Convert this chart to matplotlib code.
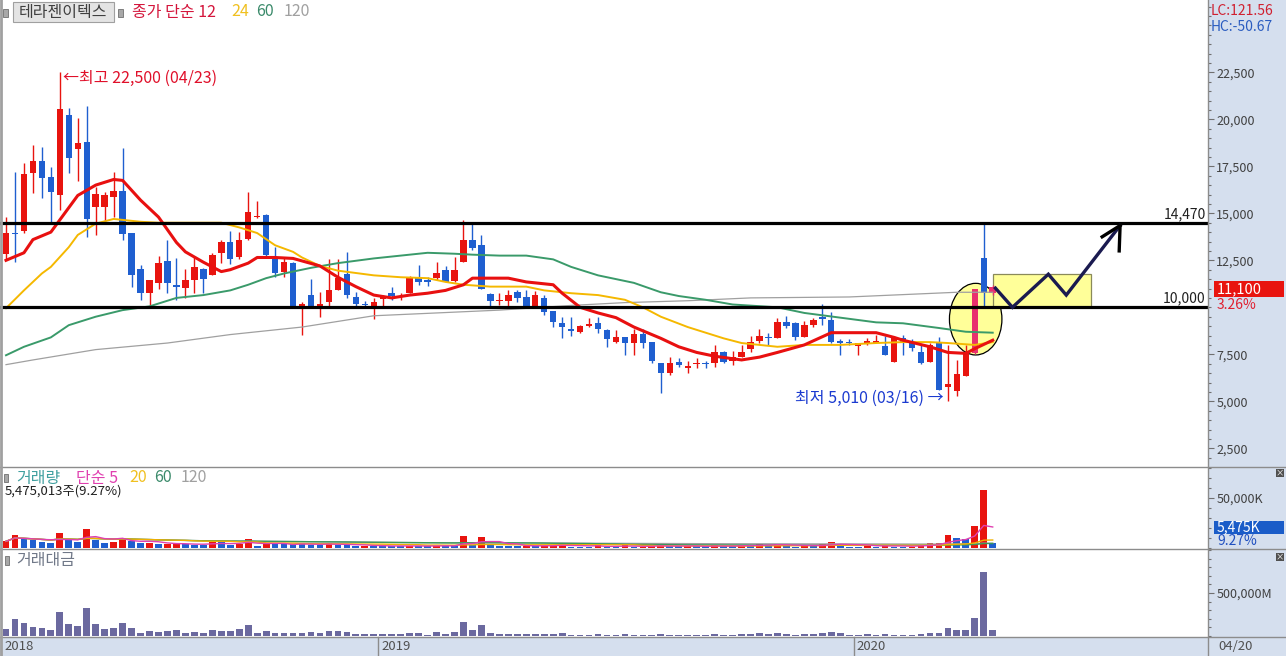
import matplotlib
matplotlib.use("Agg")
import matplotlib.pyplot as plt
from matplotlib.patches import Rectangle, Ellipse
from matplotlib.lines import Line2D
from matplotlib.ticker import MultipleLocator, FuncFormatter
import pandas as pd

plt.rcParams['font.family'] = ['Noto Sans CJK KR', 'DejaVu Sans']

W, H = 1286, 656
R = 1208  # right edge of plot area (px)

# weekly candles, week of 2018-03-12 ... 2020-04-20
opens = [12850, 13950, 14050, 17150, 17800, 16950, 15950, 20250, 18400, 18800,
         15350, 15350, 15850, 16200, 13950, 12050, 10750, 11300, 12450, 11150,
         11050, 11450, 12050, 11700, 12900, 13450, 12700, 13650, 14800, 14900,
         12700, 11900, 12350, 9950, 10650, 9950, 10300, 10900, 11750, 10550,
         10150, 10000, 10450, 10750, 10550, 10750, 11600, 11450, 11550, 12000,
         11400, 12400, 13600, 13300, 10700, 10350, 10350, 10800, 10550, 10050,
         10500, 9800, 9150, 8850, 8700, 9000, 9150, 8800, 8150, 8400,
         8100, 8600, 8150, 7050, 6500, 7100, 6750, 6980, 7000, 7050,
         7600, 7150, 7350, 7800, 8200, 8400, 8350, 9200, 9150, 8400,
         9050, 9500, 9300, 8200, 8100, 7950, 8100, 8100, 7950, 7100,
         8350, 8100, 7600, 7100, 8100, 5750, 5550, 6350, 7550, 12600,
         10750]
highs = [14800, 17200, 17700, 18650, 18550, 17450, 22500, 20600, 20050, 20700,
         16400, 16150, 17200, 18450, 13950, 12250, 11450, 12750, 13600, 12600,
         12050, 12700, 12100, 12900, 13600, 14050, 14000, 16150, 15650, 14950,
         13200, 12700, 12400, 10300, 11500, 10800, 12550, 12550, 12950, 10800,
         10350, 10500, 10650, 11100, 10750, 11650, 12250, 11600, 12400, 12200,
         12700, 14650, 14500, 13850, 10750, 10750, 10900, 10900, 10900, 10850,
         10650, 9800, 9500, 9500, 9050, 9450, 9500, 8850, 8800, 8400,
         8850, 8850, 8150, 7050, 7350, 7300, 7150, 7300, 7150, 8000,
         7650, 7650, 8000, 8450, 8850, 8650, 9450, 9550, 9200, 9250,
         9450, 10150, 9750, 8300, 8300, 8100, 8350, 8550, 8450, 8450,
         8550, 8300, 8000, 8100, 8400, 8000, 7200, 8000, 11000, 14470,
         11200]
lows = [12500, 12400, 13950, 16100, 15800, 14500, 15200, 17150, 16700, 13750,
        13850, 14500, 14800, 13600, 11100, 10400, 10050, 10950, 10750, 10400,
        10500, 10750, 10750, 11700, 12350, 12300, 12550, 13600, 14750, 12700,
        11600, 11600, 10050, 8550, 9950, 9500, 10050, 10900, 10500, 9950,
        9950, 9400, 9950, 10400, 10400, 10750, 11200, 11150, 11450, 11350,
        11350, 12400, 13050, 10950, 10000, 10100, 10000, 10300, 9950, 10050,
        9600, 8950, 8350, 8450, 8650, 8950, 8650, 7900, 8100, 7450,
        7450, 7850, 7050, 5450, 6400, 6850, 6500, 6750, 6750, 6850,
        7050, 6950, 7350, 7600, 8100, 8000, 8350, 8900, 8250, 8400,
        8950, 9050, 8100, 7450, 8000, 7450, 8000, 8100, 7450, 7100,
        7450, 7700, 7000, 7100, 5600, 5010, 5300, 6350, 7500, 10000,
        10650]
closes = [13950, 13900, 17100, 17800, 16900, 16150, 20550, 17950, 18750, 14700,
          16050, 15950, 16200, 13900, 11700, 10750, 11450, 12350, 11300, 11100,
          11450, 12150, 11500, 12800, 13450, 12550, 13600, 15050, 14850, 12800,
          11850, 12400, 10050, 10200, 10000, 10200, 10900, 11550, 10650, 10200,
          10100, 10300, 10600, 10600, 10550, 11550, 11350, 11350, 11800, 11350,
          12000, 13600, 13150, 10950, 10350, 10350, 10650, 10500, 10000, 10650,
          9750, 9200, 8950, 8750, 9000, 9100, 8850, 8300, 8400, 8100,
          8600, 8100, 7150, 6500, 7050, 6950, 6900, 7050, 6980, 7600,
          7100, 7350, 7600, 8150, 8450, 8350, 9200, 9000, 8400, 9050,
          9300, 9400, 8150, 8100, 8080, 8100, 8200, 8200, 7450, 8400,
          8100, 7850, 7050, 8000, 5600, 5900, 6450, 7550, 10950, 10750,
          11100]
pink_weeks = [108, 110]

# moving averages (week index, price)
ma12_wk = [0, 2, 3, 5, 6, 8, 10, 12, 13, 15, 17, 19, 20, 22, 24, 25, 27, 28, 30, 32,
           35, 37, 39, 41, 43, 45, 47, 49, 51, 52, 55, 56, 58, 61, 62, 64, 66, 68, 70, 73,
           75, 77, 79, 82, 84, 86, 89, 92, 94, 97, 99, 100, 103, 105, 107, 108, 110]
ma12_val = [12500, 12900, 13600, 14000, 14650, 15950, 16500, 16800, 16750, 15700,
            14800, 13450, 12950, 12400, 11900, 12000, 12350, 12650, 12650, 12600,
            12200, 11600, 11100, 10650, 10500, 10650, 10750, 10900, 11200, 11550,
            11550, 11550, 11350, 11200, 10750, 10000, 9700, 9450, 8950, 8350,
            7900, 7600, 7400, 7200, 7350, 7600, 8000, 8650, 8650, 8650,
            8400, 8250, 7900, 7600, 7550, 7800, 8250]
ma24_wk = [0, 2, 4, 5, 7, 8, 10, 12, 15, 17, 20, 24, 26, 28, 30, 32, 33, 35, 37, 41,
           44, 47, 49, 51, 54, 58, 60, 63, 66, 69, 71, 73, 76, 78, 80, 82, 86, 89, 93, 97,
           100, 103, 105, 108, 110]
ma24_val = [9950, 10900, 11800, 12150, 13200, 13850, 14450, 14700, 14550, 14500,
            14500, 14500, 14250, 13950, 13300, 12950, 12650, 12200, 11950, 11700,
            11600, 11550, 11350, 11200, 11100, 11100, 10900, 10750, 10650, 10400,
            10000, 9500, 8950, 8650, 8350, 8100, 7900, 8000, 8000, 8100,
            8150, 8150, 8100, 8000, 8150]
ma60_wk = [0, 2, 5, 7, 10, 13, 16, 19, 22, 25, 27, 29, 31, 34, 37, 41, 45, 47, 50, 52,
           55, 58, 61, 63, 66, 70, 73, 75, 78, 81, 86, 89, 93, 97, 100, 104, 107, 110]
ma60_val = [7450, 7900, 8400, 9050, 9500, 9850, 10050, 10500, 10650, 10900,
            11200, 11550, 11800, 12100, 12350, 12600, 12800, 12900, 12850, 12800,
            12750, 12750, 12550, 12150, 11700, 11300, 10800, 10600, 10400, 10150,
            10000, 9700, 9450, 9200, 9150, 8900, 8700, 8650]
ma120_wk = [0, 3, 10, 18, 25, 33, 41, 48, 55, 63, 69, 76, 83, 94, 106, 110]
ma120_val = [6950, 7200, 7750, 8100, 8550, 8950, 9550, 9700, 9850, 10100,
             10250, 10350, 10500, 10550, 10800, 10800]

# volume (thousand shares)
volume = [6700, 13300, 9000, 7700, 6300, 5000, 15000, 8300, 6300, 19000,
          8300, 5000, 6300, 10000, 7300, 4900, 5100, 3900, 4100, 4200,
          4000, 3300, 3300, 6000, 6000, 3300, 4300, 9000, 1700, 4000,
          4000, 4000, 4000, 4000, 3300, 3300, 5000, 3300, 3300, 1700,
          2300, 2300, 2300, 1700, 1700, 2300, 2300, 1700, 2300, 2300,
          2300, 12300, 3300, 11000, 3300, 2200, 2150, 2150, 2250, 2200,
          2350, 2450, 4300, 1400, 1350, 1300, 2600, 1450, 1450, 2800,
          1400, 1450, 1650, 3500, 1700, 1700, 1750, 1700, 1700, 3000,
          1650, 1650, 3000, 2850, 4150, 2750, 3800, 2550, 1400, 2550,
          2450, 3700, 5650, 4300, 1500, 1500, 2800, 1450, 3000, 1500,
          1450, 1500, 3250, 4650, 5400, 13300, 10000, 9000, 22300, 58300,
          5475]
# trading value (million won)
trade_value = [81000, 198000, 151000, 105000, 93000, 70000, 279000, 140000, 116000, 326000,
               140000, 81000, 93000, 151000, 93000, 35000, 58000, 47000, 58000, 66000,
               35000, 47000, 35000, 66000, 58000, 58000, 81000, 128000, 35000, 58000,
               35000, 35000, 35000, 35000, 47000, 35000, 58000, 58000, 47000, 23000,
               23000, 23000, 23000, 23000, 23000, 35000, 35000, 12000, 47000, 23000,
               47000, 163000, 70000, 128000, 35000, 23000, 23000, 23000, 23000, 23000,
               23000, 23000, 39000, 12000, 12000, 12000, 23000, 12000, 12000, 23000,
               12000, 12000, 12000, 23000, 12000, 12000, 12000, 12000, 12000, 23000,
               12000, 12000, 23000, 23000, 35000, 23000, 35000, 23000, 12000, 23000,
               23000, 35000, 47000, 35000, 12000, 12000, 23000, 12000, 23000, 12000,
               12000, 12000, 23000, 35000, 35000, 93000, 70000, 70000, 209000, 744000,
               70000]

levels = [14470, 10000]
price_ticks = [2500, 5000, 7500, 12500, 15000, 17500, 20000, 22500]
year_marks = [(-0.5, '2018'), (41.5, '2019'), (94.5, '2020')]

# hand drawn annotations (week index, price)
zigzag = [(110.3, 11020), (112.2, 10000), (116.2, 11760), (118.2, 10650), (124.2, 14350)]
arrow_barbs = [(122.2, 13750), (124.1, 13000)]
box_span = (110.0, 121.0, 10000, 11770)
ellipse_c = (108.1, 9370, 5.85, 3810)

RED = '#e8140f'
BLUE = '#1f5fd0'


def fy(y):
    return 1 - y / H


def ftext(x, y, s, **kw):
    kw.setdefault('va', 'center')
    fig.text(x / W, fy(y), s, **kw)


def frect(x0, y0, x1, y1, **kw):
    fig.add_artist(Rectangle((x0 / W, fy(y1)), (x1 - x0) / W, (y1 - y0) / H,
                             transform=fig.transFigure, **kw))


def fline(xs, ys, **kw):
    fig.add_artist(Line2D([x / W for x in xs], [fy(y) for y in ys],
                          transform=fig.transFigure, **kw))


fig = plt.figure(figsize=(W / 100, H / 100), dpi=100, facecolor='white')

# side and bottom strips
frect(R, 0, W, H, facecolor='#d5dfee', edgecolor='none', zorder=0)
frect(0, 637, W, H, facecolor='#d5dfee', edgecolor='none', zorder=0)

ax_p = fig.add_axes([0, fy(466), R / W, 466 / H])
ax_v = fig.add_axes([0, fy(548), R / W, 80 / H])
ax_t = fig.add_axes([0, fy(636), R / W, 86 / H])

xlim = (-0.67, 134.0)
for ax in (ax_p, ax_v, ax_t):
    ax.set_xlim(*xlim)
    for s in ax.spines.values():
        s.set_visible(False)
    ax.tick_params(axis='x', bottom=False, labelbottom=False)
    ax.yaxis.tick_right()
    ax.tick_params(axis='y', which='major', direction='out', length=4, width=0.8,
                   color='#707070', labelsize=9, labelcolor='#404040', pad=2)
    ax.tick_params(axis='y', which='minor', direction='out', length=2, width=0.8,
                   color='#707070')

idx = list(range(len(closes)))

# ---- price panel
ax_p.set_ylim(1559, 26346)
ax_p.set_yticks(price_ticks)
ax_p.yaxis.set_major_formatter(FuncFormatter(lambda v, p: f'{int(v):,}'))
ax_p.yaxis.set_minor_locator(MultipleLocator(500))

ax_p.add_patch(Ellipse(ellipse_c[:2], ellipse_c[2], ellipse_c[3], facecolor='#ffff99',
                       edgecolor='black', lw=0.9, zorder=1))
ax_p.add_patch(Rectangle((box_span[0], box_span[2]), box_span[1] - box_span[0],
                         box_span[3] - box_span[2], facecolor='#ffff99',
                         edgecolor='#8a8a5a', lw=0.9, zorder=1))

cols = [RED if c >= o else BLUE for o, c in zip(opens, closes)]
for i in pink_weeks:
    cols[i] = '#e8306e'
ax_p.vlines(idx, lows, highs, colors=cols, lw=1, zorder=2)
bottoms = [min(o, c) for o, c in zip(opens, closes)]
heights = [max(abs(c - o), 60) for o, c in zip(opens, closes)]
ax_p.bar(idx, heights, bottom=bottoms, width=0.72, color=cols, lw=0, zorder=2)

ax_p.plot(ma120_wk, ma120_val, color='#a0a0a0', lw=0.9, zorder=3)
ax_p.plot(ma60_wk, ma60_val, color='#3a9a6a', lw=1.4, zorder=3)
ax_p.plot(ma24_wk, ma24_val, color='#f5b800', lw=1.4, zorder=3)
ax_p.plot(ma12_wk, ma12_val, color='#e81010', lw=2.2, zorder=3)

for lv in levels:
    ax_p.axhline(lv, color='black', lw=2.3, zorder=4)
    ax_p.annotate(f'{lv:,}', xy=(0.998, lv), xycoords=('axes fraction', 'data'),
                  xytext=(0, 1.5), textcoords='offset points', ha='right', va='bottom',
                  fontsize=10, color='#202020')

zx, zy = zip(*zigzag)
ax_p.plot(zx, zy, color='#1a1a50', lw=2.4, zorder=5, solid_joinstyle='miter')
for bx, by in arrow_barbs:
    ax_p.plot([zx[-1], bx], [zy[-1], by], color='black', lw=2.4, zorder=5)

i_hi = highs.index(max(highs))
ax_p.annotate(f'←최고 {max(highs):,} (04/23)', xy=(i_hi, max(highs)), xytext=(2, -4),
              textcoords='offset points', ha='left', va='center', fontsize=11.5,
              color='#e0102a')
i_lo = lows.index(min(lows))
ax_p.annotate(f'최저 {min(lows):,} (03/16) →', xy=(i_lo, min(lows)), xytext=(-3, 2),
              textcoords='offset points', ha='right', va='center', fontsize=11.5,
              color='#1a3ad0')

# ---- volume panel
ax_v.set_ylim(0, 80000)
vol_s = pd.Series(volume)
vcols = [RED if d > 0 else BLUE for d in vol_s.diff().fillna(1)]
ax_v.bar(idx, volume, width=0.75, color=vcols, lw=0)
for n, c in [(120, '#a0a0a0'), (60, '#3a9a5a'), (20, '#f0b000'), (5, '#e040b0')]:
    ax_v.plot(idx, vol_s.rolling(n, min_periods=1).mean(), color=c, lw=1)
ax_v.set_yticks([50000])
ax_v.set_yticklabels(['50,000K'])
ax_v.yaxis.set_minor_locator(MultipleLocator(10000))

# ---- trading value panel
ax_t.set_ylim(0, 1000000)
ax_t.bar(idx, trade_value, width=0.75, color='#6b699f', lw=0)
ax_t.set_yticks([500000])
ax_t.set_yticklabels(['500,000M'])
ax_t.yaxis.set_minor_locator(MultipleLocator(100000))

# ---- frame lines
for yy in (467, 549, 637):
    fline([0, W], [yy, yy], color='#8c8c8c', lw=1)
fline([R, R], [0, H], color='#8c8c8c', lw=1)
fline([1, 1], [0, H], color='#a0a0a0', lw=2)

# ---- header texts
frect(3, 9, 8, 17, facecolor='#a8a8a8', edgecolor='#707070', lw=0.6)
frect(13, 2, 114, 22, facecolor='#e4e4e4', edgecolor='#a0a0a0', lw=0.8)
ftext(63, 12, '테라젠이텍스', ha='center', fontsize=11.5, color='#404040')
frect(118, 9, 123, 17, facecolor='#a8a8a8', edgecolor='#707070', lw=0.6)
ftext(132, 12, '종가 단순 12', fontsize=11.5, color='#d4163c')
ftext(231, 12, '24', fontsize=11.5, color='#f0c020')
ftext(256, 12, '60', fontsize=11.5, color='#3a8a6a')
ftext(284, 12, '120', fontsize=11.5, color='#a0a0a0')

frect(4, 474, 8, 482, facecolor='#a8a8a8', edgecolor='#707070', lw=0.6)
ftext(16, 478, '거래량', fontsize=11.5, color='#40a0a0')
ftext(76, 478, '단순 5', fontsize=11.5, color='#e040b0')
ftext(129, 478, '20', fontsize=11.5, color='#f0c020')
ftext(154, 478, '60', fontsize=11.5, color='#3a8a6a')
ftext(181, 478, '120', fontsize=11.5, color='#a0a0a0')
ftext(5, 491, '5,475,013주(9.27%)', fontsize=9.5, color='#202020')

frect(5, 556, 9, 565, facecolor='#a8a8a8', edgecolor='#707070', lw=0.6)
ftext(16, 561, '거래대금', fontsize=11.5, color='#707888')

# ---- right strip labels
ftext(1211, 11, 'LC:121.56', fontsize=10, color='#d02030')
ftext(1211, 27, 'HC:-50.67', fontsize=10, color='#2a5cc0')
frect(1214, 281, 1284, 297, facecolor='#e8140f', edgecolor='none')
ftext(1217, 289, f'{closes[-1]:,}', fontsize=10.5, color='white')
ftext(1217, 305, '3.26%', fontsize=10, color='#e02030')
frect(1214, 521, 1284, 534, facecolor='#1a5cc8', edgecolor='none')
ftext(1217, 527.5, f'{volume[-1]:,}K', fontsize=10, color='white')
ftext(1217, 541, '9.27%', fontsize=10, color='#2050c0')
for yb in (469, 553):
    frect(1276, yb, 1284, yb + 8, facecolor='#505050', edgecolor='none')
    ftext(1280, yb + 4, '×', ha='center', fontsize=6, color='white')

# ---- date strip
for wk, lab in year_marks:
    xp = 6 + wk * 8.97
    if wk > 0:
        fline([xp, xp], [637, 656], color='#8c8c8c', lw=1)
    ftext(xp + 3, 647, lab, fontsize=9.5, color='#505050')
ftext(1218, 647, '04/20', fontsize=9.5, color='#505050')

fig.savefig('out.png', dpi=100)
